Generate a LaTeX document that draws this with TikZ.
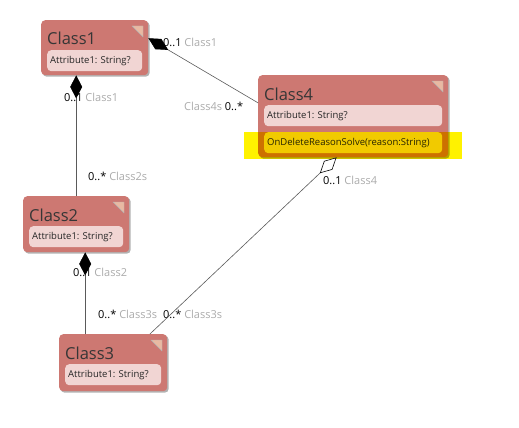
\documentclass[tikz,border=0pt]{standalone}
\usepackage{fontspec}
\setmainfont{Open Sans}
\frenchspacing
\usetikzlibrary{positioning,arrows.meta,shadows}
\definecolor{classred}{HTML}{CD7872}
\definecolor{attrpink}{HTML}{F1D5D3}
\definecolor{cornerpeach}{HTML}{E9B9A2}
\definecolor{rolegray}{HTML}{ABABAB}
\definecolor{titlegray}{HTML}{363636}
\definecolor{linegray}{HTML}{5A5A5A}
\tikzset{
  classbox/.style={fill=classred, rounded corners=4pt, anchor=north west, inner sep=0pt,
    drop shadow={shadow xshift=1.5pt, shadow yshift=-1.5pt, opacity=0.3, fill=black}},
  classtitle/.style={text=titlegray, font=\fontsize{16.5}{18}\selectfont, inner sep=0pt},
  attrrow/.style={fill=attrpink, rounded corners=4pt, anchor=north west, inner xsep=3pt, inner ysep=0pt,
    minimum height=21pt, align=left, text=black!85, font=\fontsize{9.5}{11}\selectfont},
  multlabel/.style={anchor=west, inner sep=0pt, font=\fontsize{11}{13}\selectfont},
  assoc/.style={draw=linegray, line width=0.6pt},
  owns/.style={assoc, -{Diamond[length=23pt, width=12pt, color=black]}},
  shares/.style={assoc, -{Diamond[open, fill=white, length=23pt, width=12pt, color=black]}}
}
% name, left, top, width, height, title
\newcommand{\classbox}[6]{
  \pgfmathsetmacro{\rowwd}{#4-18}
  \node[classbox, minimum width=#4pt, minimum height=#5pt] (#1) at (#2,#3) {};
  \node[classtitle, anchor=base west] (#1-title) at (#2+6,#3+25) {#6};
  \node[attrrow, text width=\rowwd pt] (#1-attr) at (#2+6,#3+30) {Attribute1: String?};
  \filldraw[fill=cornerpeach, draw=gray!60, line width=0.4pt]
    (#2+#4-16,#3+6) -- (#2+#4-5,#3+6) -- (#2+#4-5,#3+17) -- cycle;
}
\newcommand{\role}[1]{\textcolor{rolegray}{#1}}

\begin{document}
\begin{tikzpicture}[x=1pt, y=-1pt]
\useasboundingbox (0,0) rectangle (519,428);

% classes
\classbox{c1}{41}{20}{107}{55}{Class1}
\classbox{c2}{23}{196}{106}{56}{Class2}
\classbox{c3}{59}{334}{108}{57}{Class3}
\classbox{c4}{258}{75}{190}{82}{Class4}
\pgfmathsetmacro{\rowwd}{190-18}
\node[attrrow, text width=\rowwd pt] (c4-op) at (264,132) {OnDeleteReasonSolve(reason:String)};
% highlight of the selected operation
\begin{scope}[blend mode=multiply]
  \fill[yellow] (244,132) rectangle (462,159);
\end{scope}

% end labels
\node[multlabel] (l1) at (163,42) {0..1 \role{Class1}};
\node[multlabel] (l2) at (184,106) {\role{Class4s} 0..*};
\node[multlabel] (l3) at (64,97) {0..1 \role{Class1}};
\node[multlabel] (l4) at (88,176) {0..* \role{Class2s}};
\node[multlabel] (l5) at (73,272) {0..1 \role{Class2}};
\node[multlabel] (l6) at (98,314) {0..* \role{Class3s}};
\node[multlabel] (l7) at (163,314) {0..* \role{Class3s}};
\node[multlabel] (l8) at (323,180) {0..1 \role{Class4}};

% associations
\draw[owns] (c4.172) -- (c1.10);
\draw[owns] (c2.north) -- (c2.north |- c1.south);
\draw[owns] ([xshift=9pt]c2.south |- c3.north) -- ([xshift=9pt]c2.south);
\draw[shares] (c3.38) -- (c4.248);
\end{tikzpicture}
\end{document}
